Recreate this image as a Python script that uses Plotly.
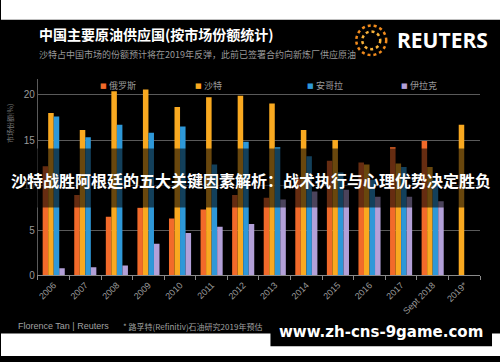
import plotly.graph_objects as go

years = ["2006", "2007", "2008", "2009", "2010", "2011", "2012", "2013",
         "2014", "2015", "2016", "2017", "Sept 2018", "2019*"]
russia = [12.1, 8.9, 6.5, 7.5, 6.3, 7.3, 8.9, 8.6, 10.7, 12.7, 12.5, 14.2, 14.9, None]
saudi = [18.0, 16.1, 20.4, 20.6, 18.65, 19.75, 19.9, 19.05, 16.1, 15.0, 12.3, 12.4, 12.0, 16.7]
angola = [17.6, 15.3, 16.7, 15.8, 16.5, 12.3, 14.8, 14.2, 13.2, 11.4, 10.6, 12.0, 10.6, None]
iraq = [0.8, 0.9, 1.1, 3.5, 4.7, 5.4, 5.7, 8.4, 9.3, 9.5, 8.7, 8.7, 8.2, None]

names = ["俄罗斯", "沙特", "安哥拉", "伊拉克"]
colors = ["#F26A2A", "#F9A920", "#2E98D8", "#B3A0D8"]
values = [russia, saudi, angola, iraq]
legend_px = [100, 195, 308, 402]

W, H = 500, 362
CJK = "Noto Sans CJK SC"

fig = go.Figure()
for name, vals, col in zip(names, values, colors):
    fig.add_trace(go.Bar(x=years, y=vals, name=name, marker=dict(color=col, line=dict(width=0))))

def px_x(p):
    return p / W

def px_y(p):
    return 1 - p / H

fig.update_layout(
    width=W, height=H, autosize=False,
    margin=dict(l=0, r=0, t=0, b=0),
    paper_bgcolor="black", plot_bgcolor="black",
    barmode="group", bargap=0.3, bargroupgap=0,
    font=dict(family=CJK, color="#9a9a9a", size=9),
    showlegend=False,
    xaxis=dict(domain=[px_x(37), px_x(480)], showgrid=False, tickangle=-45,
               tickfont=dict(family="Liberation Sans", size=9, color="#9a9a9a"),
               showline=True, linecolor="#8a8a8a", linewidth=1,
               ticks="outside", tickson="boundaries", ticklen=4, tickcolor="#8a8a8a"),
    yaxis=dict(domain=[px_y(280), px_y(80)], range=[0, 21.8],
               tickvals=[0, 5, 10, 15, 20], showgrid=True, gridcolor="#5a5a5a", gridwidth=1,
               zeroline=False, showline=True, linecolor="#5a5a5a",
               tickfont=dict(family="Liberation Sans", size=10, color="#9a9a9a")),
)

shapes = [
    dict(type="rect", xref="paper", yref="paper", x0=0, x1=1, y0=px_y(20), y1=1,
         fillcolor="white", line=dict(width=0), layer="above"),
    dict(type="rect", xref="paper", yref="paper", x0=0, x1=1, y0=0, y1=px_y(339),
         fillcolor="white", line=dict(width=0), layer="above"),
    dict(type="rect", xref="paper", yref="paper", x0=0, x1=1, y0=px_y(211), y1=px_y(151),
         fillcolor="rgba(0,0,0,0.58)", line=dict(width=0), layer="above"),
    dict(type="rect", xref="paper", yref="paper", x0=px_x(270), x1=px_x(492),
         y0=px_y(352), y1=px_y(323), fillcolor="black", line=dict(width=0), layer="above"),
    dict(type="circle", xref="paper", yref="paper", x0=px_x(356), x1=px_x(386),
         y0=px_y(56), y1=px_y(26), line=dict(color="#F08A1C", width=2.5, dash="dot"), layer="above"),
    dict(type="circle", xref="paper", yref="paper", x0=px_x(362), x1=px_x(380),
         y0=px_y(50), y1=px_y(32), line=dict(color="#F7B23A", width=2.5, dash="dot"), layer="above"),
]
fig.update_layout(shapes=shapes)

ann = [
    dict(text="<b>中国主要原油供应国(按市场份额统计)</b>", x=px_x(36), y=px_y(35),
         font=dict(family=CJK, size=14, color="white")),
    dict(text="沙特占中国市场的份额预计将在2019年反弹，此前已签署合约向新炼厂供应原油",
         x=px_x(36), y=px_y(55), font=dict(family=CJK, size=9, color="#9a9a9a")),
    dict(text="<b>REUTERS</b>", x=px_x(395), y=px_y(41),
         font=dict(family="Open Sans", size=21, color="white")),
    dict(text="Florence Tan | Reuters", x=px_x(15), y=px_y(332),
         font=dict(family="Liberation Sans", size=9, color="#a0a0a0")),
    dict(text="* 路孚特(Refinitiv)石油研究2019年预估", x=px_x(120), y=px_y(332),
         font=dict(family=CJK, size=8, color="#a0a0a0")),
    dict(text="市场份额(%)", x=px_x(9), y=px_y(125), xanchor="center", textangle=-90,
         font=dict(family=CJK, size=7, color="#777777")),
    dict(text="<b>沙特战胜阿根廷的五大关键因素解析：战术执行与心理优势决定胜负</b>",
         x=0.5, y=px_y(183), xanchor="center",
         font=dict(family=CJK, size=16, color="white")),
    dict(text="<b>www.zh-cns-9game.com</b>", x=px_x(381), y=px_y(338), xanchor="center",
         font=dict(family="DejaVu Sans", size=15, color="white")),
]
for nm, col, lx in zip(names, colors, legend_px):
    ann.append(dict(text="■", x=px_x(lx - 3), y=px_y(87),
                    font=dict(family="DejaVu Sans", size=7, color=col)))
    ann.append(dict(text=nm, x=px_x(lx + 6), y=px_y(87),
                    font=dict(family=CJK, size=9, color="#9a9a9a")))
for a in ann:
    a.setdefault("xanchor", "left")
    a.update(xref="paper", yref="paper", yanchor="middle", showarrow=False)
fig.update_layout(annotations=ann)

fig.write_html("out.html", config={"displayModeBar": False},
               post_script="document.body.style.margin='0';document.body.style.padding='0';")
